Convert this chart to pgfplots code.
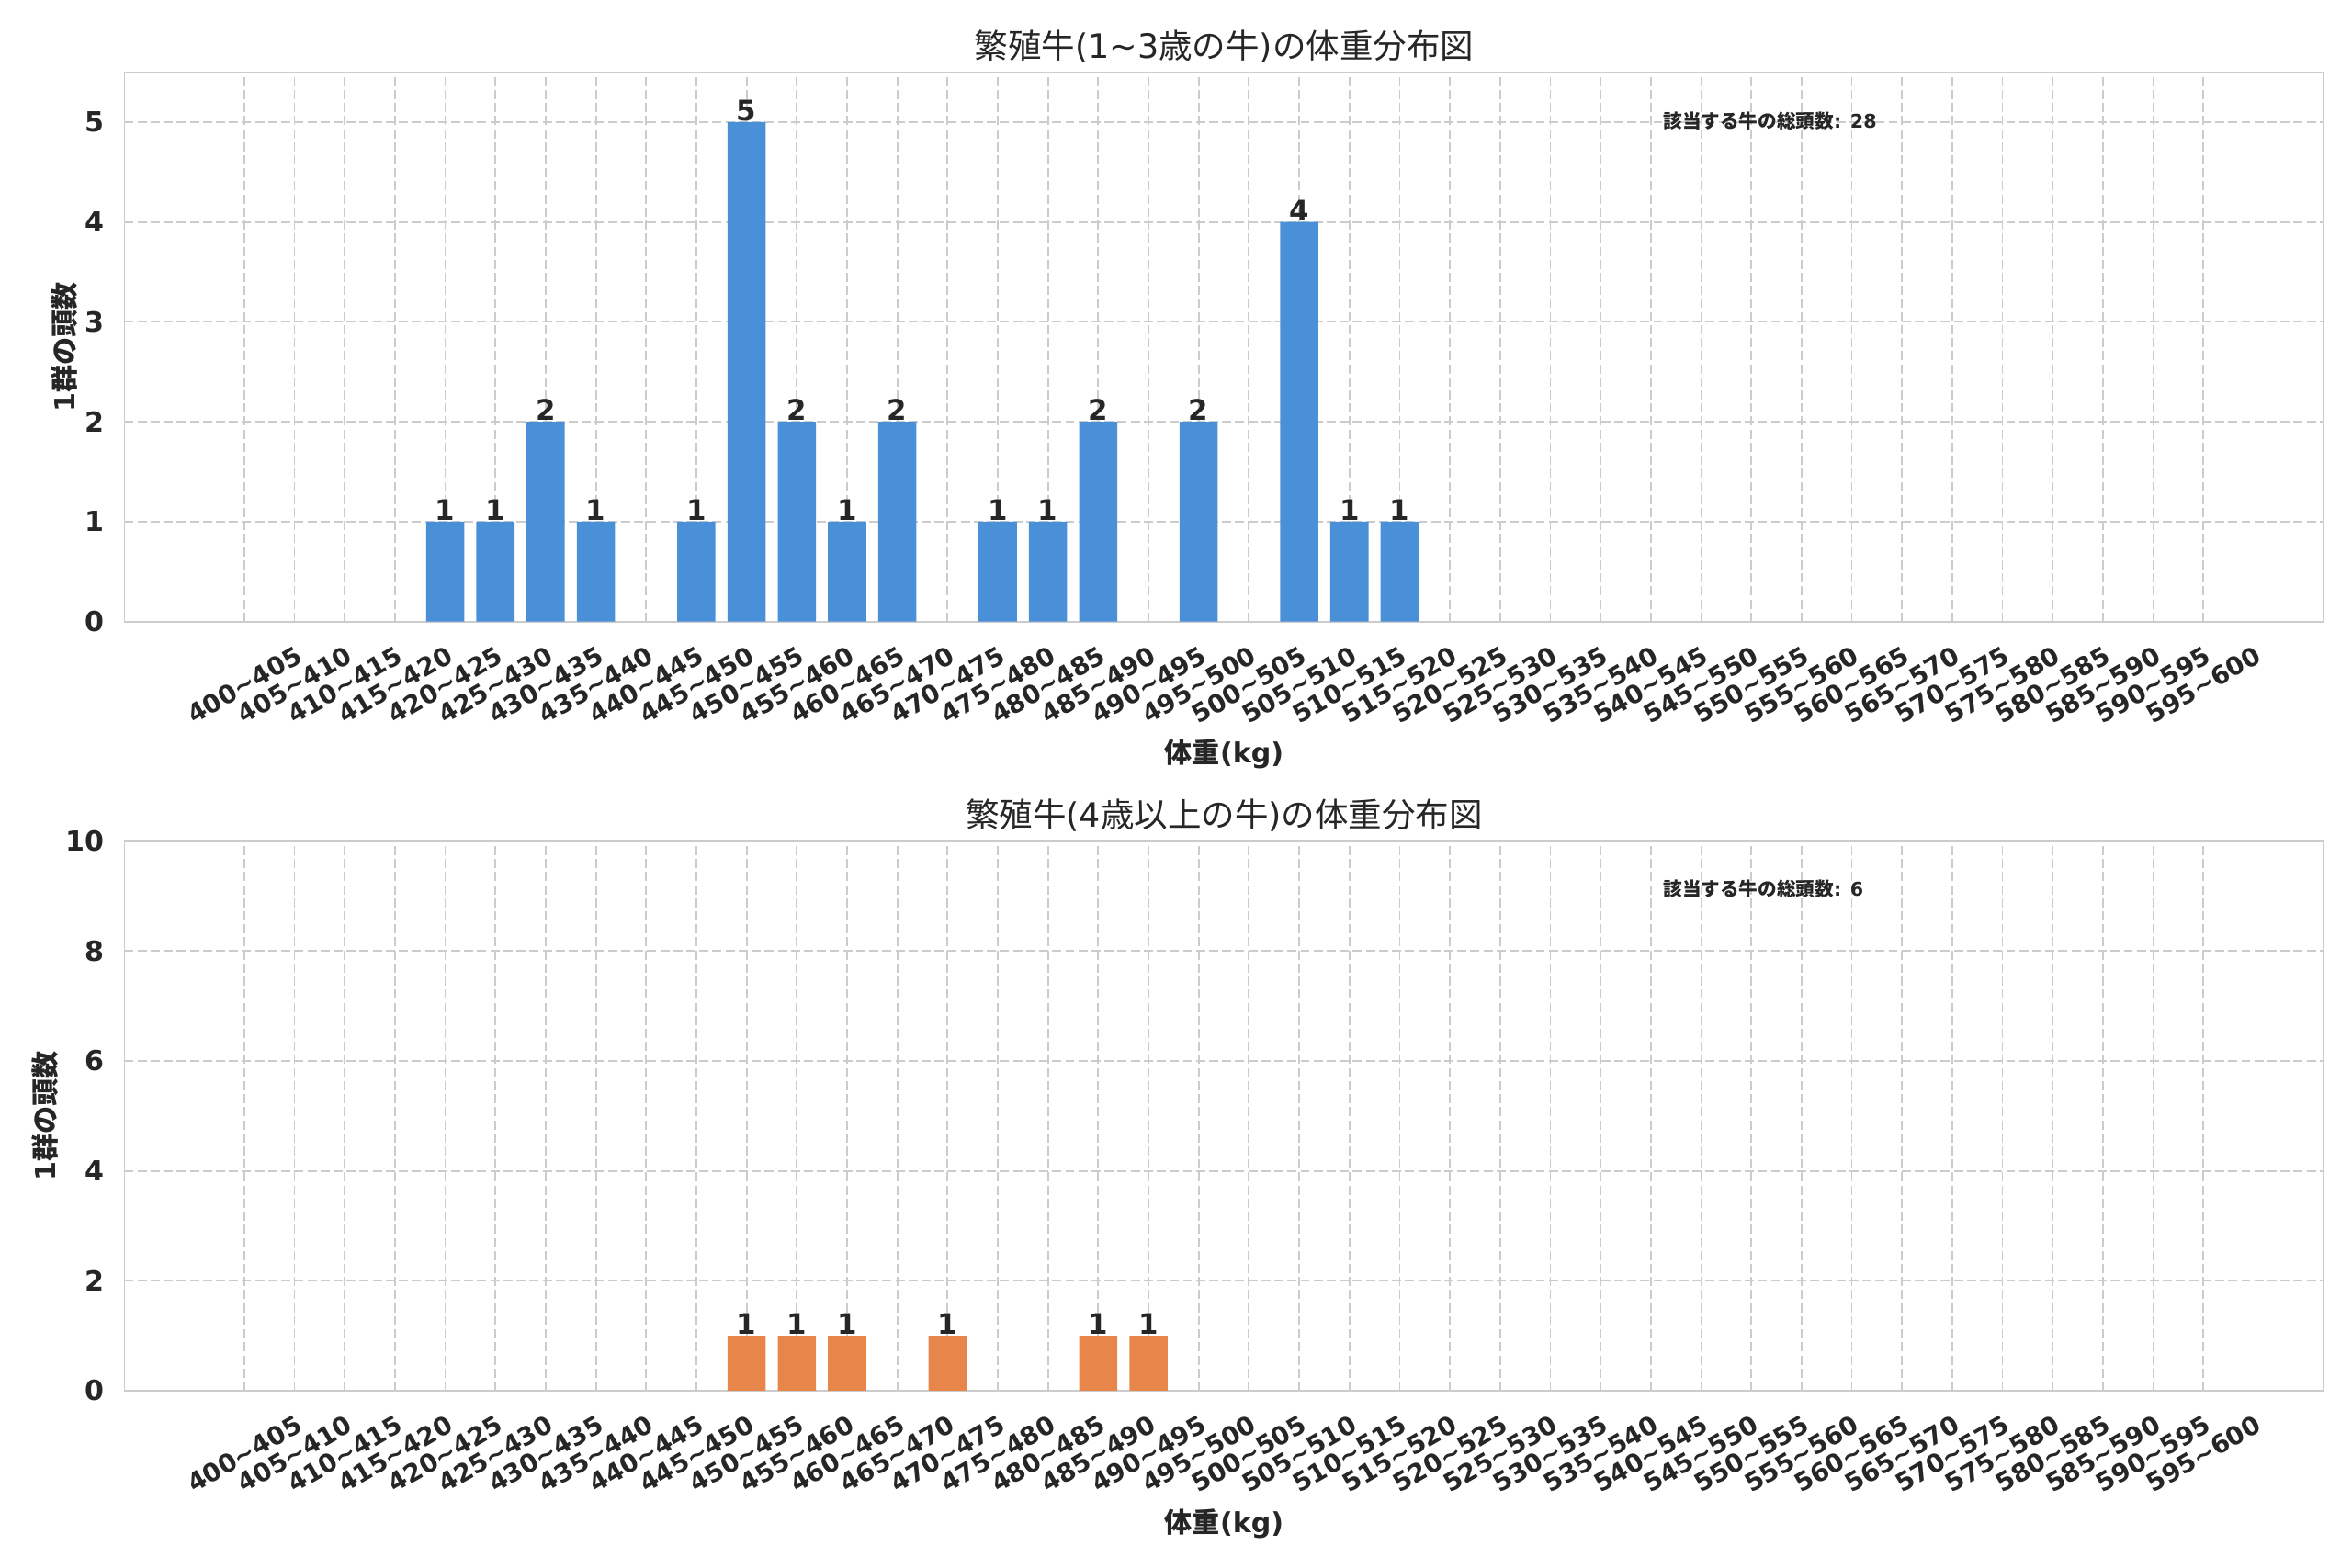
\documentclass[border=0pt]{standalone}
\usepackage{fontspec}
\setmainfont{DejaVu Sans}
\newfontfamily\cjk{Noto Sans CJK JP}
\usepackage{pgfplots}
\pgfplotsset{compat=1.18}
\definecolor{txt}{HTML}{262626}
\definecolor{gridc}{HTML}{CCCCCC}
\definecolor{barblue}{HTML}{4A90D9}
\definecolor{barorange}{HTML}{E8854A}
\newcommand\ta{\textasciitilde}
\pgfplotsset{
  histstyle/.style={
    scale only axis, width=1009.9bp, height=252.4bp,
    xmin=-2.385, xmax=41.4, ymin=0,
    xtick={0,...,39},
    xticklabels={400\ta405,405\ta410,410\ta415,415\ta420,420\ta425,425\ta430,430\ta435,435\ta440,440\ta445,445\ta450,450\ta455,455\ta460,460\ta465,465\ta470,470\ta475,475\ta480,480\ta485,485\ta490,490\ta495,495\ta500,500\ta505,505\ta510,510\ta515,515\ta520,520\ta525,525\ta530,530\ta535,535\ta540,540\ta545,545\ta550,550\ta555,555\ta560,560\ta565,565\ta570,570\ta575,575\ta580,580\ta585,585\ta590,590\ta595,595\ta600},
    axis line style={gridc, line width=0.8bp},
    major tick length=0pt,
    xmajorgrids, ymajorgrids,
    major grid style={gridc, line width=0.75bp, dash pattern=on 4.2bp off 1.8bp},
    /pgf/number format/assume math mode=true,
    tick label style={text=txt},
    xticklabel style={yshift=-29bp, rotate=30, anchor=center, inner sep=0pt, font=\fontsize{11.6bp}{13bp}\selectfont\bfseries},
    yticklabel style={anchor=east, inner sep=0pt, xshift=-9.3bp, font=\fontsize{12.7bp}{14bp}\selectfont\bfseries},
    every axis title shift=0pt,
    title style={at={(axis description cs:0.5,1)}, anchor=center, yshift=11.9bp, text=txt, font=\fontsize{15.4bp}{17bp}\selectfont},
    every axis x label/.style={at={(axis description cs:0.5,0)}, anchor=center, yshift=-61bp, text=txt, font=\fontsize{12.7bp}{14bp}\selectfont\bfseries},
    ybar, bar width=0.76,
    nodes near coords,
    every node near coord/.append style={anchor=base, inner sep=0pt, yshift=0.6bp, text=txt, font=\fontsize{13bp}{14bp}\selectfont\bfseries},
    xlabel={{\cjk 体重}(kg)},
  }
}
\begin{document}
\begin{tikzpicture}
\useasboundingbox (0,0) rectangle (1080bp,720bp);
\begin{axis}[histstyle,
  at={(57.16bp,434.5bp)}, anchor=south west,
  ymax=5.5, ytick={0,1,2,3,4,5},
  title={{\cjk 繁殖牛}(1\ta3{\cjk 歳の牛}){\cjk の体重分布図}},
  every axis y label/.style={at={(axis description cs:0,0.5)}, xshift=-27.6bp, rotate=90, anchor=center, text=txt, font=\fontsize{12.7bp}{14bp}\selectfont\bfseries},
  ylabel={1{\cjk 群の頭数}},
]
\addplot[fill=barblue, draw=none] coordinates {
  (4,1) (5,1) (6,2) (7,1) (9,1) (10,5) (11,2) (12,1) (13,2)
  (15,1) (16,1) (17,2) (19,2) (21,4) (22,1) (23,1)
};
\node[anchor=west, inner sep=0pt, text=txt, font=\fontsize{8.7bp}{10bp}\selectfont\bfseries] at (axis description cs:0.6995,0.911) {{\cjk 該当する牛の総頭数}: 28};
\end{axis}
\begin{axis}[histstyle,
  at={(57.16bp,81.3bp)}, anchor=south west,
  ymax=10, ytick={0,2,4,6,8,10},
  title={{\cjk 繁殖牛}(4{\cjk 歳以上の牛}){\cjk の体重分布図}},
  every axis y label/.style={at={(axis description cs:0,0.5)}, xshift=-36.6bp, rotate=90, anchor=center, text=txt, font=\fontsize{12.7bp}{14bp}\selectfont\bfseries},
  ylabel={1{\cjk 群の頭数}},
]
\addplot[fill=barorange, draw=none] coordinates {
  (10,1) (11,1) (12,1) (14,1) (17,1) (18,1)
};
\node[anchor=west, inner sep=0pt, text=txt, font=\fontsize{8.7bp}{10bp}\selectfont\bfseries] at (axis description cs:0.6995,0.913) {{\cjk 該当する牛の総頭数}: 6};
\end{axis}
\end{tikzpicture}
\end{document}
